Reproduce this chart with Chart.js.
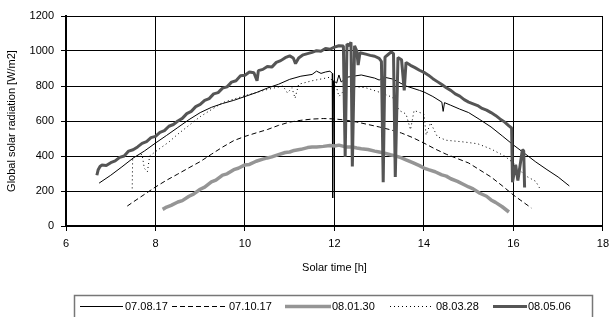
<!DOCTYPE html>
<html>
<head>
<meta charset="utf-8">
<script src="https://cdn.jsdelivr.net/npm/chart.js@4.4.1/dist/chart.umd.min.js"></script>
<style>
  html, body { margin: 0; padding: 0; background: #fff; }
  canvas { display: block; }
</style>
</head>
<body>
<canvas id="radChart" width="615" height="317"></canvas>
<script>
'use strict';

// ── Data (solar time [h] / global radiation [W/m2]) ───────
const SERIES_NAMES = ['07.08.17', '07.10.17', '08.01.30', '08.03.28', '08.05.06'];

const t_070817 = [6.74, 7.0, 7.25, 7.5, 7.75, 8.0, 8.25, 8.5, 8.75, 9.0, 9.25, 9.5, 9.75, 10.0, 10.25, 10.5, 10.75, 11.0, 11.25, 11.5, 11.6, 11.7, 11.8, 11.9, 11.95, 11.96, 11.98, 12.05, 12.1, 12.15, 12.3, 12.6, 12.9, 13.0, 13.1, 13.3, 13.6, 13.9, 14.0, 14.2, 14.4, 14.43, 14.46, 14.6, 14.8, 15.0, 15.25, 15.5, 15.75, 16.0, 16.25, 16.5, 16.75, 17.0, 17.25];
const v_070817 = [245, 290, 338, 388, 428, 474, 518, 563, 608, 648, 678, 700, 718, 740, 762, 788, 810, 838, 856, 866, 885, 872, 880, 885, 872, 160, 830, 817, 863, 823, 851, 863, 845, 834, 851, 840, 800, 775, 766, 740, 708, 655, 705, 690, 668, 648, 608, 566, 515, 463, 415, 366, 322, 280, 229];

const t_071017 = [7.37, 7.5, 7.75, 8.0, 8.25, 8.5, 8.75, 9.0, 9.25, 9.5, 9.75, 10.0, 10.25, 10.5, 10.75, 11.0, 11.25, 11.5, 11.75, 12.0, 12.25, 12.5, 12.75, 13.0, 13.25, 13.5, 13.75, 14.0, 14.25, 14.5, 14.75, 15.0, 15.25, 15.5, 15.75, 16.0, 16.2, 16.4];
const v_071017 = [114, 137, 180, 223, 262, 297, 333, 368, 410, 451, 488, 512, 532, 551, 575, 594, 604, 611, 614, 612, 605, 594, 580, 566, 550, 531, 505, 474, 440, 410, 385, 360, 320, 280, 230, 177, 140, 103];

const t_080130 = [8.16, 8.25, 8.35, 8.5, 8.6, 8.75, 8.85, 9.0, 9.1, 9.25, 9.35, 9.5, 9.6, 9.75, 9.85, 10.0, 10.1, 10.25, 10.4, 10.5, 10.6, 10.75, 10.9, 11.0, 11.1, 11.25, 11.4, 11.5, 11.6, 11.75, 11.9, 12.0, 12.1, 12.25, 12.4, 12.5, 12.6, 12.75, 12.9, 13.0, 13.1, 13.25, 13.4, 13.5, 13.6, 13.75, 13.9, 14.0, 14.1, 14.25, 14.4, 14.5, 14.6, 14.75, 14.9, 15.0, 15.1, 15.25, 15.4, 15.5, 15.6, 15.75, 15.9];
const v_080130 = [95, 108, 118, 137, 145, 170, 182, 210, 222, 252, 262, 291, 298, 322, 330, 349, 352, 370, 382, 389, 395, 408, 420, 423, 432, 438, 448, 451, 452, 455, 460, 457, 462, 452, 451, 446, 442, 437, 428, 423, 418, 407, 398, 389, 378, 362, 345, 331, 322, 310, 292, 285, 270, 255, 236, 223, 212, 187, 170, 149, 135, 110, 80];

const t_080328 = [7.48, 7.49, 7.6, 7.7, 7.75, 7.82, 7.87, 8.0, 8.3, 8.5, 8.8, 9.0, 9.5, 10.0, 10.5, 10.85, 10.95, 11.05, 11.12, 11.2, 11.5, 11.9, 12.05, 12.1, 12.3, 12.7, 13.0, 13.3, 13.45, 13.6, 13.7, 13.78, 14.0, 14.05, 14.15, 14.3, 14.5, 14.9, 15.2, 15.5, 15.8, 16.0, 16.25, 16.5, 16.6];
const v_080328 = [215, 395, 400, 410, 330, 310, 400, 425, 480, 525, 585, 625, 705, 745, 780, 800, 760, 790, 730, 810, 830, 850, 790, 740, 800, 790, 765, 735, 660, 640, 550, 660, 640, 520, 590, 510, 490, 480, 470, 440, 400, 360, 290, 255, 210];

const t_080506 = [6.69, 6.72, 6.76, 6.8, 6.9, 7.0, 7.1, 7.2, 7.3, 7.4, 7.5, 7.6, 7.7, 7.8, 7.9, 8.0, 8.1, 8.2, 8.3, 8.4, 8.5, 8.6, 8.7, 8.8, 8.9, 9.0, 9.1, 9.2, 9.3, 9.4, 9.5, 9.6, 9.7, 9.8, 9.9, 10.0, 10.1, 10.2, 10.27, 10.3, 10.4, 10.5, 10.6, 10.7, 10.8, 10.9, 11.0, 11.08, 11.13, 11.2, 11.3, 11.4, 11.5, 11.6, 11.7, 11.8, 11.9, 12.0, 12.1, 12.2, 12.24, 12.28, 12.33, 12.37, 12.4, 12.45, 12.5, 12.53, 12.57, 12.7, 12.8, 12.9, 13.0, 13.05, 13.09, 13.13, 13.2, 13.27, 13.32, 13.36, 13.42, 13.5, 13.56, 13.6, 13.7, 13.8, 13.9, 14.0, 14.1, 14.2, 14.3, 14.4, 14.5, 14.6, 14.7, 14.8, 14.9, 15.0, 15.1, 15.2, 15.3, 15.4, 15.5, 15.6, 15.7, 15.8, 15.9, 15.96, 15.98, 16.05, 16.1, 16.2, 16.23, 16.25];
const v_080506 = [290, 322, 340, 348, 346, 362, 372, 392, 400, 428, 436, 452, 472, 482, 505, 512, 535, 545, 570, 580, 600, 615, 642, 655, 682, 695, 718, 728, 755, 762, 788, 795, 822, 830, 858, 862, 880, 876, 830, 888, 895, 912, 908, 935, 945, 962, 972, 960, 928, 960, 978, 985, 992, 1002, 998, 1015, 1010, 1022, 1030, 1028, 395, 1040, 1030, 1050, 340, 1030, 1000, 920, 990, 982, 975, 970, 958, 940, 250, 965, 980, 995, 985, 280, 962, 950, 775, 935, 918, 905, 890, 878, 862, 842, 825, 808, 790, 775, 755, 742, 722, 708, 698, 688, 672, 662, 648, 632, 612, 595, 572, 560, 250, 350, 260, 435, 430, 220];

const X_TICKS = [6, 8, 10, 12, 14, 16, 18];
const Y_TICKS = [0, 200, 400, 600, 800, 1000, 1200];

// ── Styles ────────────────────────────────────────────────
const FONT = { family: "'Liberation Sans', Arial, sans-serif", size: 11 };
const STYLES = [
    { color: '#000000', width: 1,   dash: [] },
    { color: '#000000', width: 1,   dash: [5, 3] },
    { color: '#959595', width: 3.5, dash: [] },
    { color: '#000000', width: 1,   dash: [1, 3] },
    { color: '#555555', width: 3,   dash: [] },
];

const toPts = (ts, vs) => ts.map((t, i) => ({ x: t, y: vs[i] }));
const RAW = [
    toPts(t_070817, v_070817),
    toPts(t_071017, v_071017),
    toPts(t_080130, v_080130),
    toPts(t_080328, v_080328),
    toPts(t_080506, v_080506),
];

// ── Legend box under the plot ─────────────────────────────
const boxLegend = {
    id: 'boxLegend',
    afterDraw(chart) {
        const ctx = chart.ctx;
        ctx.save();
        ctx.strokeStyle = '#777';
        ctx.lineWidth = 1.5;
        ctx.strokeRect(74.5, 295.5, 518, 24);
        const items = [[80, 123, 125], [172, 228, 229], [285, 331, 332], [390, 433, 436], [493, 527, 528]];
        const cy = 306.5;
        items.forEach((it, i) => {
            const st = STYLES[i];
            ctx.beginPath();
            ctx.setLineDash(st.dash);
            ctx.strokeStyle = st.color;
            ctx.lineWidth = st.width;
            ctx.moveTo(it[0], cy);
            ctx.lineTo(it[1], cy);
            ctx.stroke();
            ctx.setLineDash([]);
            ctx.fillStyle = '#000';
            ctx.font = `${FONT.size}px ${FONT.family}`;
            ctx.textBaseline = 'middle';
            ctx.fillText(SERIES_NAMES[i], it[2], cy);
        });
        ctx.restore();
    }
};

new Chart(document.getElementById('radChart').getContext('2d'), {
    type: 'line',
    data: {
        datasets: SERIES_NAMES.map((name, i) => ({
            label: name,
            data: RAW[i],
            borderColor: STYLES[i].color,
            borderWidth: STYLES[i].width,
            borderDash: STYLES[i].dash,
            borderJoinStyle: 'bevel',
            pointRadius: 0,
            fill: false,
            tension: 0,
            order: 5 - i,
        }))
    },
    options: {
        responsive: false,
        animation: false,
        layout: { padding: { top: 16, right: 9, bottom: 41, left: 0 } },
        plugins: { legend: { display: false }, tooltip: { enabled: false } },
        scales: {
            x: {
                type: 'linear', min: 6, max: 18,
                afterBuildTicks: s => { s.ticks = X_TICKS.map(v => ({ value: v })); },
                afterFit: s => { s.height = 50; },
                ticks: { color: '#000', font: FONT, padding: 6, maxRotation: 0, callback: v => String(v) },
                grid: { color: '#000', lineWidth: 1, tickLength: 5 },
                border: { color: '#000', width: 2 },
                title: { display: true, text: 'Solar time [h]', color: '#000', font: FONT, padding: { top: 0, bottom: 1 } }
            },
            y: {
                min: 0, max: 1200,
                afterBuildTicks: s => { s.ticks = Y_TICKS.map(v => ({ value: v })); },
                afterFit: s => { s.width = 66; },
                ticks: { color: '#000', font: FONT, padding: 7, callback: v => String(v) },
                grid: { color: '#000', lineWidth: 1, tickLength: 5 },
                border: { color: '#000', width: 2 },
                title: { display: true, text: 'Global solar radiation [W/m2]', color: '#000', font: FONT, padding: { top: 5, bottom: 0 } }
            }
        }
    },
    plugins: [boxLegend]
});
</script>
</body>
</html>
